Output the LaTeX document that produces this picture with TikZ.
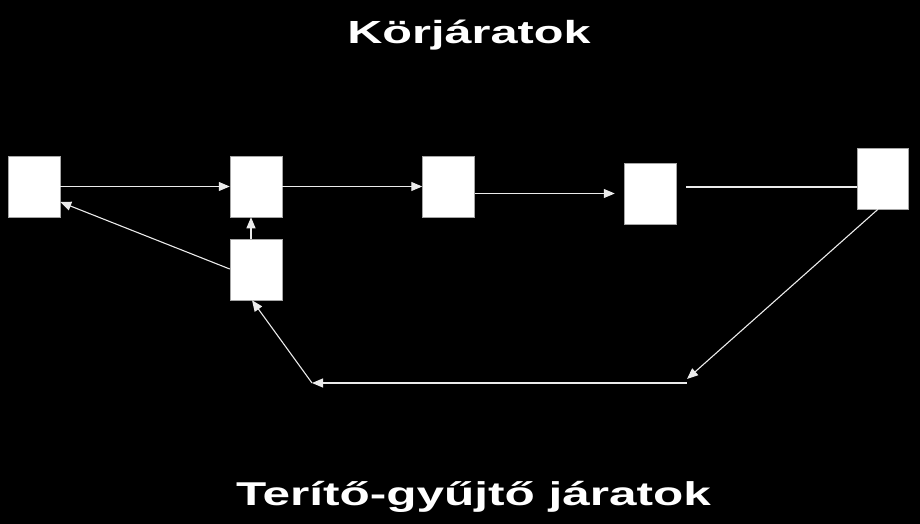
\documentclass[tikz,border=0pt]{standalone}
\usepackage{fontspec}
\setmainfont{Liberation Sans}
\usetikzlibrary{positioning}
\usetikzlibrary{arrows.meta}
\tikzset{
  stop/.style={draw=gray!70, line width=0.5pt, fill=white, rectangle, minimum width=52pt, minimum height=61pt, inner sep=0pt},
  route/.style={draw=white!92!black, line width=1.1pt},
  tip/.style={-{Triangle[length=11pt,width=9pt]}},
  heading/.style={text=white, font=\bfseries\fontsize{32}{38}\selectfont, anchor=base, inner sep=0pt}
}
\begin{document}
\begin{tikzpicture}[x=1pt,y=-1pt]
            \fill[black] (0,0) rectangle (920,524);
            \useasboundingbox (0,0) rectangle (920,524);

            \node[heading, xscale=1.52] (korj) at (469,43.5) {Körjáratok};
            \node[heading, xscale=1.5, font=\bfseries\fontsize{33}{40}\selectfont] (terit) at (473.5,505) {Terítő-gyűjtő járatok};

            \node[stop] (a) at (34,186.5) {};
            \node[stop] (b) at (256,186.5) {};
            \node[stop] (c) at (256,269.5) {};
            \node[stop] (d) at (448.5,186.5) {};
            \node[stop] (e) at (650,193.5) {};
            \node[stop, minimum width=51pt] (f) at (882.5,178.5) {};

            \coordinate (turn) at (687,379);
            \coordinate (right) at (687,383);
            \coordinate (left) at (312,383);

            % korjarat
            \draw[route,tip] (a) -- (b);
            \draw[route,tip] (b) -- (d);
            \draw[route,tip] (d.east |- e) -- ([xshift=-9pt]e.west);
            \draw[route] ([xshift=10pt,yshift=6.5pt]e.east) -- ([yshift=-8.5pt]f.west);

            % terito-gyujto
            \draw[route,tip] ([xshift=-4.5pt]f.south) -- (turn);
            \draw[route,tip] (right) -- (left);
            \draw[route,tip] (left) -- ([xshift=-4pt]c.south);
            \draw[route,tip] ([xshift=-5pt]c.north) -- ([xshift=-5pt]b.south);
            \draw[route,tip] ([yshift=0.5pt]c.west) -- ([yshift=-15.5pt]a.east);
        \end{tikzpicture}
\end{document}
